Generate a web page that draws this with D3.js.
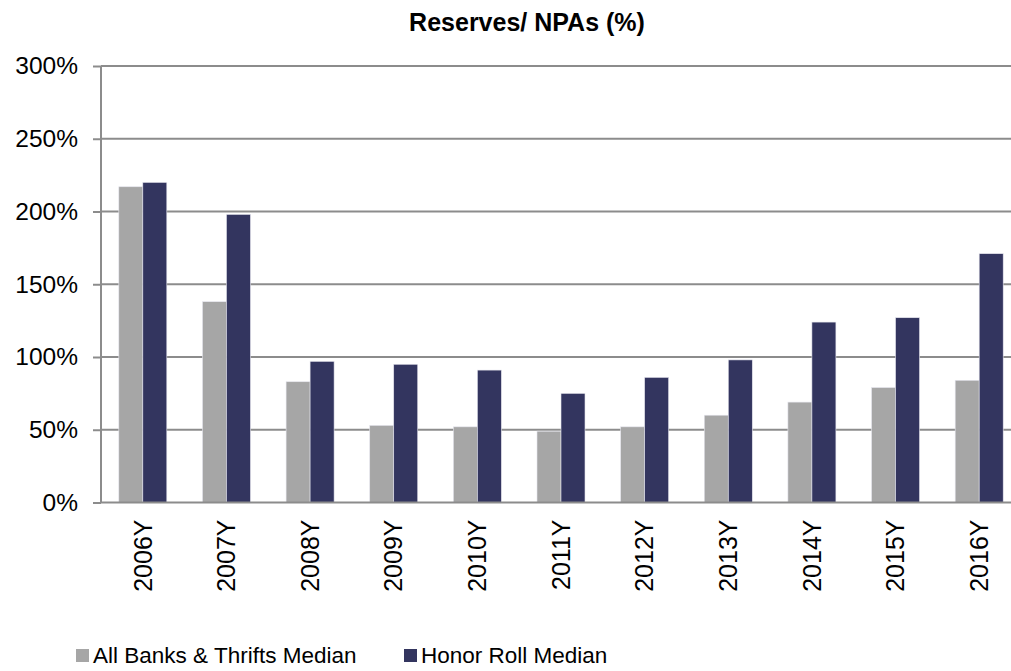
<!DOCTYPE html>
<html lang="en">
<head>
    <meta charset="UTF-8">
    <title>Reserves / NPAs (%)</title>
    <style>
        body {
            margin: 0;
            background: #fff;
            font-family: "Liberation Sans", Arial, Helvetica, sans-serif;
        }
        svg { display: block; }
        .grid line { stroke: #8c8c8c; stroke-width: 2px; }
        .axis path, .axis line { stroke: #8c8c8c; stroke-width: 2px; }
        .axis text { fill: #000; }
    </style>
</head>
<body>
    <div id="content"></div>
    <script src="https://d3js.org/d3.v7.min.js"></script>
    <script>

        // chart data
        var years = ["2006Y", "2007Y", "2008Y", "2009Y", "2010Y", "2011Y",
                     "2012Y", "2013Y", "2014Y", "2015Y", "2016Y"];
        var seriesNames = ["All Banks & Thrifts Median", "Honor Roll Median"];
        var allBanks = [217, 138, 83, 53, 52, 49, 52, 60, 69, 79, 84];
        var honorRoll = [220, 198, 97, 95, 91, 75, 86, 98, 124, 127, 171];
        var yTicks = [0, 50, 100, 150, 200, 250, 300];
        var colors = ["#a6a6a6", "#33355f"];

        var width = 1011, height = 671;
        var margin = { top: 66, left: 101, bottom: 502.5, right: 1021 };

        var svg = d3.select("#content").append("svg")
            .attr("width", width)
            .attr("height", height);

        var rows = years.map(function (y, i) {
            return { year: y, values: [allBanks[i], honorRoll[i]] };
        });

        var x = d3.scaleBand()
            .domain(years)
            .range([margin.left, margin.right])
            .paddingInner(0.426)
            .paddingOuter(0.213);

        var x1 = d3.scaleBand()
            .domain([0, 1])
            .range([0, x.bandwidth()]);

        var y = d3.scaleLinear()
            .domain([0, 300])
            .range([margin.bottom, margin.top]);

        // title
        svg.append("text")
            .attr("x", 527)
            .attr("y", 31)
            .attr("text-anchor", "middle")
            .style("font-size", "25px")
            .style("font-weight", "bold")
            .text("Reserves/ NPAs (%)");

        // gridlines
        svg.append("g")
            .attr("class", "grid")
            .selectAll("line")
            .data(yTicks.filter(function (d) { return d > 0; }))
            .enter().append("line")
            .attr("x1", margin.left)
            .attr("x2", width)
            .attr("y1", function (d) { return y(d); })
            .attr("y2", function (d) { return y(d); });

        // bars
        var groups = svg.append("g").selectAll("g")
            .data(rows)
            .enter().append("g")
            .attr("transform", function (d) { return "translate(" + x(d.year) + ",0)"; });

        groups.selectAll("rect")
            .data(function (d) { return d.values; })
            .enter().append("rect")
            .attr("x", function (d, i) { return x1(i); })
            .attr("width", x1.bandwidth())
            .attr("y", function (d) { return y(d); })
            .attr("height", function (d) { return y(0) - y(d); })
            .attr("fill", function (d, i) { return colors[i]; })
            .attr("stroke", "#e6e6ee")
            .attr("stroke-width", 0.6);

        // y axis
        var yAxis = d3.axisLeft(y)
            .tickValues(yTicks)
            .tickSize(8)
            .tickPadding(15)
            .tickFormat(function (d) { return d + "%"; });

        svg.append("g")
            .attr("class", "axis")
            .attr("transform", "translate(" + margin.left + ",0)")
            .call(yAxis)
            .call(function (g) { g.select(".domain").attr("d", "M0," + margin.top + "V" + margin.bottom); })
            .selectAll("text")
            .style("font-size", "24.5px")
            .style("font-family", "'Liberation Sans', Arial, sans-serif");

        // x axis
        var xAxis = d3.axisBottom(x).tickSize(0).tickPadding(0);

        var xg = svg.append("g")
            .attr("class", "axis")
            .attr("transform", "translate(0," + margin.bottom + ")")
            .call(xAxis);

        xg.select(".domain").attr("d", "M" + margin.left + ",0H" + width);

        xg.selectAll("text")
            .attr("transform", "rotate(-90)")
            .attr("x", -17)
            .attr("y", 0)
            .attr("dy", "0.35em")
            .attr("text-anchor", "end")
            .style("font-size", "25px")
            .style("font-family", "'Liberation Sans', Arial, sans-serif");

        // legend
        var legendX = [76, 404];
        var legend = svg.append("g").selectAll("g")
            .data(seriesNames)
            .enter().append("g")
            .attr("transform", function (d, i) { return "translate(" + legendX[i] + ",0)"; });

        legend.append("rect")
            .attr("x", 0)
            .attr("y", 649)
            .attr("width", 13)
            .attr("height", 13)
            .attr("fill", function (d, i) { return colors[i]; });

        legend.append("text")
            .attr("x", 17)
            .attr("y", 663)
            .style("font-size", "22.5px")
            .text(function (d) { return d; });

    </script>
</body>
</html>
